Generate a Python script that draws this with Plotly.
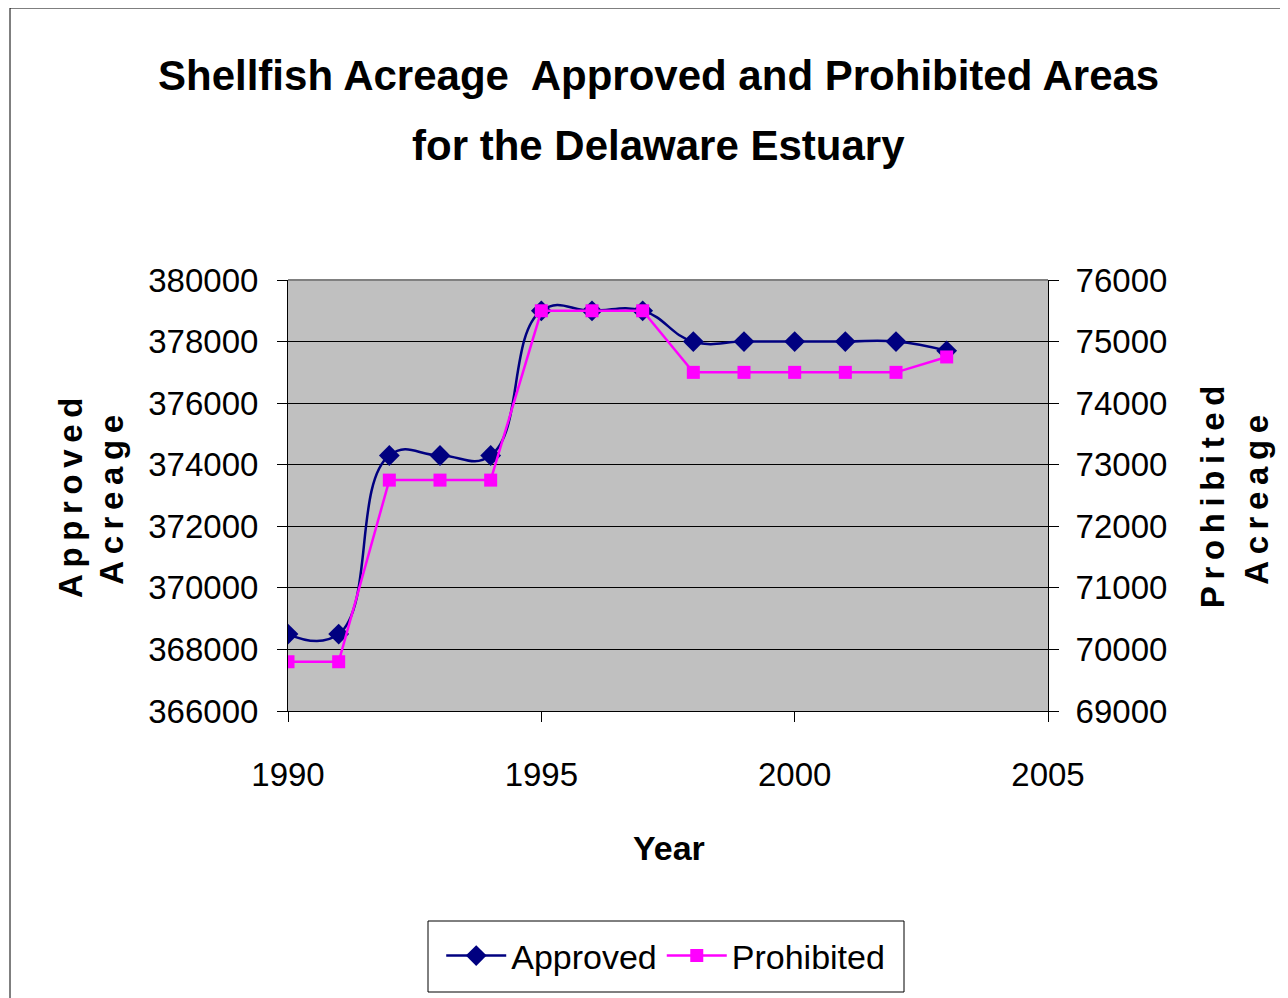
import plotly.graph_objects as go

# values
years = [1990, 1991, 1992, 1993, 1994, 1995, 1996, 1997, 1998, 1999, 2000, 2001, 2002, 2003]
approved = [368500, 368500, 374300, 374300, 374300, 379000, 379000, 379000,
            378000, 378000, 378000, 378000, 378000, 377700]
prohibited = [69800, 69800, 72750, 72750, 72750, 75500, 75500, 75500,
              74500, 74500, 74500, 74500, 74500, 74750]

font = "Liberation Sans, Arial"


def spaced(word):
    # mimic the letter spacing of the original axis titles
    return "\u2009".join(word)


fig = go.Figure()

fig.add_trace(go.Scatter(
    x=years, y=approved, name="Approved", mode="lines+markers",
    line=dict(color="#000080", width=2.5, shape="spline", smoothing=1.3),
    marker=dict(symbol="diamond", size=16, color="#000080"),
))
fig.add_trace(go.Scatter(
    x=years, y=prohibited, name="Prohibited", mode="lines+markers", yaxis="y2",
    line=dict(color="#FF00FF", width=2.5),
    marker=dict(symbol="square", size=13, color="#FF00FF"),
))

# page body has an 8px margin, so the figure is 8px smaller each way
fig.update_layout(
    width=1280, height=990,
    margin=dict(l=280, r=240, t=272, b=287),
    paper_bgcolor="white",
    plot_bgcolor="#C0C0C0",
    font=dict(family=font, color="black", size=33),
    xaxis=dict(
        range=[1990, 2005], dtick=5, tick0=1990,
        showgrid=False, zeroline=False,
        showline=True, linecolor="black", linewidth=1,
        ticks="outside", ticklen=10, tickcolor="black",
        tickfont=dict(size=33), ticklabelstandoff=24,
    ),
    yaxis=dict(
        range=[366000, 380000], dtick=2000, tickformat="d",
        showgrid=True, gridcolor="black", gridwidth=1,
        zeroline=False,
        showline=True, linecolor="black", linewidth=1,
        ticks="outside", ticklen=10, tickcolor="black",
        tickfont=dict(size=33), ticklabelstandoff=12,
    ),
    yaxis2=dict(
        range=[69000, 76000], dtick=1000, tickformat="d",
        overlaying="y", side="right",
        showgrid=False, zeroline=False,
        showline=True, linecolor="black", linewidth=1,
        ticks="outside", ticklen=10, tickcolor="black",
        tickfont=dict(size=33), ticklabelstandoff=10,
    ),
    legend=dict(
        orientation="h", x=0.497, xanchor="center", y=-0.5684, yanchor="middle",
        borderwidth=0, bgcolor="rgba(0,0,0,0)",
        font=dict(size=34), itemwidth=60,
    ),
    showlegend=True,
)

# title lines
fig.add_annotation(text="<b>Shellfish Acreage  Approved and Prohibited Areas</b>",
                   xref="paper", yref="paper", x=0.487, y=1.4756,
                   xanchor="center", yanchor="middle", showarrow=False,
                   font=dict(size=42))
fig.add_annotation(text="<b>for the Delaware Estuary</b>",
                   xref="paper", yref="paper", x=0.487, y=1.313,
                   xanchor="center", yanchor="middle", showarrow=False,
                   font=dict(size=42))

# x axis title
fig.add_annotation(text="<b>Year</b>", xref="paper", yref="paper",
                   x=0.501, y=-0.318, xanchor="center", yanchor="middle",
                   showarrow=False, font=dict(size=34))

# rotated two-line y axis titles
for xpos, ypos, word in [(-0.287, 0.494, "Approved"), (-0.2316, 0.49, "Acreage"),
                         (1.216, 0.4965, "Prohibited"), (1.275, 0.49, "Acreage")]:
    fig.add_annotation(
        text="<b>" + spaced(word) + "</b>", xref="paper", yref="paper",
        x=xpos, y=ypos, xanchor="center", yanchor="middle", showarrow=False,
        textangle=-90, font=dict(size=33),
    )

# gray top border of plot area, legend box and outer chart border
fig.add_shape(type="line", xref="paper", yref="paper", x0=0, x1=1, y0=1, y1=1,
              line=dict(color="#808080", width=2))
fig.add_shape(type="rect", xref="paper", yref="paper",
              x0=(428 - 288) / 760, x1=(904 - 288) / 760,
              y0=(711 - 992) / 431, y1=(711 - 921) / 431,
              line=dict(color="black", width=1))
fig.add_shape(type="rect", xref="paper", yref="paper",
              x0=(10 - 288) / 760, x1=(1300 - 288) / 760,
              y0=(711 - 1010) / 431, y1=(711 - 8) / 431,
              line=dict(color="black", width=1))

fig.write_html("out.html")
